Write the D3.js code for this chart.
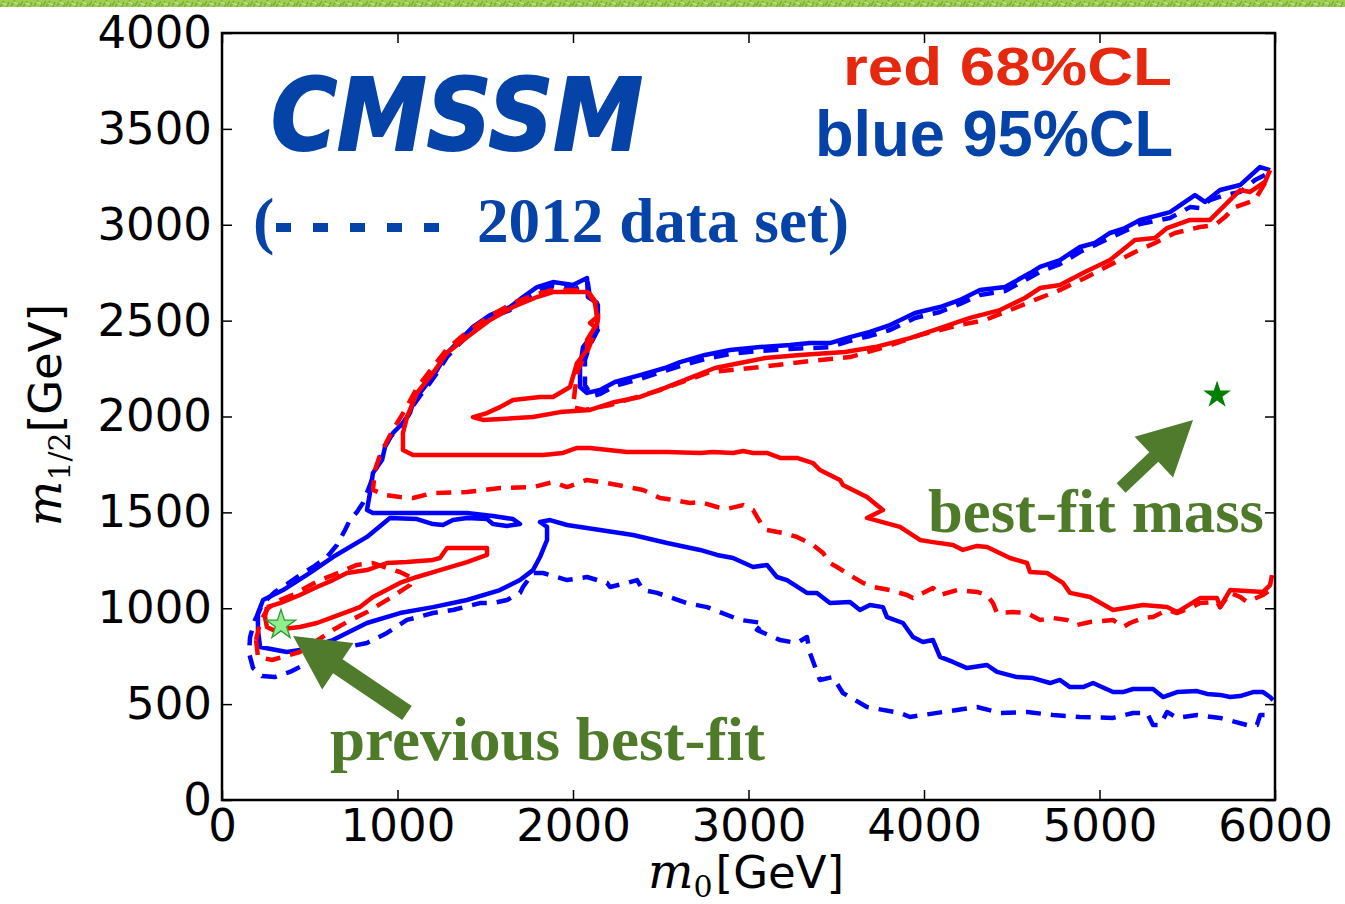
<!DOCTYPE html>
<html>
<head>
<meta charset="utf-8">
<script src="https://cdn.jsdelivr.net/npm/d3@7"></script>
<style>
  body { margin: 0; background: #fff; }
  svg { display: block; }
</style>
</head>
<body>
<svg id="chart" width="1345" height="904"></svg>
<script>
// ---- Axis ticks ----
const xTicks = [0, 1000, 2000, 3000, 4000, 5000, 6000];
const yTicks = [0, 500, 1000, 1500, 2000, 2500, 3000, 3500, 4000];

// ---- Contours, [m0, m1/2] in GeV ----
// 95% CL, current data set (solid blue)
const blue95Solid = [
  [5972,3285],[5915,3301],[5801,3207],[5687,3181],[5601,3119],[5544,3155],[5402,3066],[5231,3025],[5145,2983],[5060,2957],
  [4974,2905],[4889,2884],[4775,2816],[4661,2780],[4604,2748],[4462,2675],[4319,2660],[4205,2608],[4091,2571],[3949,2540],
  [3806,2477],[3692,2441],[3578,2414],[3464,2383],[3350,2383],[3237,2373],[3066,2362],[2895,2347],[2752,2321],[2610,2284],
  [2524,2253],[2382,2216],[2239,2180],[2154,2138],[2080,2123],[2040,2154],[2040,2258],[2057,2362],[2097,2409],[2137,2451],
  [2137,2592],[2085,2623],[2080,2722],[2057,2712],[2000,2686],[1886,2701],[1795,2675],[1715,2623],[1641,2571],[1527,2529],
  [1430,2467],[1356,2399],[1282,2331],[1225,2242],[1185,2190],[1128,2123],[1088,2070],[1071,2018],[1031,1966],[974,1914],
  [929,1841],[912,1773],[860,1705],[843,1601],[826,1512],
  [860,1497],[1014,1497],[1202,1497],[1396,1497],[1544,1481],[1658,1465],[1698,1439],[1624,1429],[1544,1439],[1510,1465],
  [1396,1471],[1316,1460],[1259,1434],[1202,1439],[1111,1465],[957,1471],
  [826,1372],[632,1267],[501,1184],[348,1095],[234,1043],[205,975],[205,887],[217,798],[370,772],[444,782],
  [632,834],[826,923],[1014,975],[1202,1006],[1396,1043],[1584,1095],[1698,1147],[1772,1199],[1812,1267],[1852,1356],
  [1852,1424],[1812,1450],[1869,1460],[1966,1434],[2154,1408],[2342,1382],[2536,1340],[2724,1304],[2821,1278],[2912,1262],
  [3026,1215],[3105,1226],[3162,1163],[3219,1147],[3333,1080],[3390,1080],[3464,1027],[3578,1033],[3635,991],[3692,1017],
  [3766,1006],[3789,954],[3880,923],[3937,850],[3994,824],[4051,834],[4091,746],[4165,720],[4245,688],[4359,704],
  [4416,668],[4530,641],[4621,636],[4718,610],[4775,626],[4832,589],[4906,589],[4963,610],[5077,563],[5134,563],
  [5191,579],[5305,579],[5362,537],[5442,563],[5556,568],[5613,553],[5687,548],[5744,537],[5801,542],[5875,563],
  [5932,563],[5972,537],[5989,521]
];

// 95% CL, 2012 data set (dashed blue)
const blue95Dashed = [
  [5943,3259],[5886,3233],[5801,3171],[5715,3155],[5630,3129],[5573,3087],[5516,3092],[5402,3035],[5231,3004],[5060,2931],
  [4889,2858],[4775,2795],[4661,2754],[4462,2654],[4319,2634],[4205,2587],[4091,2545],[3949,2514],[3806,2451],[3692,2420],
  [3578,2394],[3464,2362],[3237,2352],[3066,2342],[2895,2326],[2752,2300],[2610,2263],[2382,2196],[2239,2159],[2154,2117],
  [2108,2107],[2068,2164],[2068,2295],[2097,2373],[2142,2451],[2142,2581],[2097,2618],[2085,2696],[2011,2665],[1886,2680],
  [1795,2654],[1715,2608],[1641,2555],[1527,2514],[1430,2451],[1356,2383],[1282,2310],[1225,2227],[1185,2175],[1128,2107],
  [1088,2055],[1060,2003],[1014,1945],[957,1893],[917,1825],[889,1757],[860,1684],[832,1617],[803,1549],[769,1502],
  [729,1460],[701,1408],[655,1330],[598,1267],[519,1215],[444,1173],[370,1126],[302,1085],[234,1027],[188,939],
  [160,850],[154,767],[177,688],[228,647],[302,641],[387,668],[444,694],[632,782],[826,819],[940,871],
  [1054,939],[1202,975],[1316,991],[1470,1027],[1544,1027],[1624,1043],[1698,1080],[1715,1111],[1772,1184],[1829,1184],
  [1966,1147],[2080,1163],[2194,1132],[2211,1111],[2308,1132],[2365,1147],[2399,1095],[2479,1080],[2650,1027],[2764,1006],
  [2952,939],[3083,923],[3048,887],[3180,834],[3276,819],[3333,850],[3350,767],[3407,626],[3481,641],[3538,558],
  [3675,485],[3863,454],[3920,433],[4108,459],[4302,485],[4433,454],[4587,459],[4735,443],[4889,433],[5077,428],
  [5191,454],[5271,454],[5305,391],[5345,391],[5385,459],[5442,428],[5556,443],[5687,428],[5840,391],[5897,391],
  [5915,443],[5972,443]
];

// 68% CL, current data set (solid red): main region and the low-mass island
const red68Solid = [
  [5972,3285],[5943,3223],[5858,3171],[5801,3181],[5726,3113],[5630,3025],[5516,3025],[5385,2983],[5316,2931],[5202,2920],
  [5060,2816],[4917,2754],[4775,2686],[4661,2670],[4575,2618],[4433,2555],[4262,2514],[4091,2461],[3920,2409],[3721,2362],
  [3550,2336],[3293,2321],[3094,2305],[2952,2279],[2809,2253],[2667,2201],[2524,2149],[2382,2102],[2239,2076],[2097,2034],
  [1926,2023],[1772,1997],[1487,1982],[1430,1997],[1510,2018],[1584,2049],[1658,2086],[1812,2102],[1886,2102],[1983,2154],
  [2023,2279],[2080,2347],[2080,2399],[2125,2467],[2097,2488],[2137,2519],[2125,2592],[2080,2649],[1886,2649],[1795,2623],
  [1658,2571],[1527,2503],[1396,2414],[1282,2331],[1202,2227],[1111,2123],[1054,1997],[1031,1914],[1031,1825],[1088,1799],
  [1299,1799],[1584,1799],[1829,1799],[1943,1810],[2023,1836],[2097,1836],[2308,1815],[2536,1815],[2724,1810],[2798,1815],
  [2912,1810],[2969,1820],[3026,1810],[3105,1810],[3180,1784],[3276,1784],[3368,1757],[3407,1721],[3521,1669],[3538,1643],
  [3675,1580],[3766,1512],[3675,1471],[3863,1424],[3977,1356],[4051,1345],[4165,1330],[4222,1304],[4302,1325],[4359,1319],
  [4490,1262],[4587,1236],[4604,1189],[4701,1184],[4792,1132],[4832,1080],[4946,1059],[5077,991],[5248,1017],[5385,1006],
  [5442,980],[5573,1053],[5670,1053],[5687,1006],[5744,1095],[5932,1085],[5972,1121],[5983,1173]
];
const red68SolidIsland = [
  [256,1006],[330,1027],[444,1069],[541,1111],[632,1147],[712,1184],[826,1199],[940,1236],[1054,1241],[1202,1252],
  [1242,1262],[1282,1314],[1510,1314],[1510,1278],[1396,1241],[1242,1199],[1111,1163],[1014,1132],[860,1059],[786,1006],
  [632,954],[541,923],[444,902],[291,887],[256,902],[245,954],[256,1006]
];

// 68% CL, 2012 data set (dashed red)
const red68Dashed = [
  [5943,3218],[5886,3129],[5772,3092],[5715,3040],[5658,2999],[5573,2988],[5430,2957],[5316,2905],[5202,2858],[5060,2790],
  [4917,2722],[4775,2660],[4632,2608],[4490,2555],[4348,2503],[4205,2477],[3977,2425],[3778,2362],[3578,2310],[3350,2289],
  [3066,2258],[2781,2232],[2496,2138],[2211,2060],[2068,2034],[2000,2049],[2011,2138],[2028,2242],[2085,2347],[2108,2399],
  [2142,2503],[2142,2581],[2097,2639],[2068,2660],[1886,2660],[1795,2639],[1658,2592],[1527,2524],[1396,2441],[1282,2352],
  [1202,2258],[1111,2149],[1043,2034],[974,1930],[929,1851],[900,1799],[872,1721],[860,1617],[929,1591],[1014,1580],
  [1088,1575],[1202,1601],[1396,1606],[1584,1627],[1772,1632],[1886,1658],[1966,1632],[2080,1669],[2194,1653],[2342,1627],
  [2399,1617],[2496,1575],[2570,1565],[2667,1549],[2724,1554],[2821,1528],[2877,1518],[2969,1538],[3026,1512],[3083,1424],
  [3105,1408],[3197,1392],[3276,1372],[3368,1330],[3425,1288],[3464,1236],[3504,1215],[3578,1173],[3652,1132],[3709,1111],
  [3806,1095],[3903,1069],[3937,1053],[4051,1106],[4091,1069],[4188,1095],[4302,1085],[4359,1069],[4393,1027],[4416,975],
  [4507,980],[4587,975],[4661,939],[4735,949],[4815,939],[4872,913],[4946,928],[5077,939],[5134,902],[5174,923],
  [5248,949],[5305,954],[5385,991],[5442,975],[5516,1001],[5573,1027],[5670,1033],[5687,1006],[5744,1080],[5801,1059],
  [5840,1033],[5932,1069],[5972,1095]
];
const red68DashedIsland = [
  [194,834],[205,746],[285,730],[444,772],[632,887],[712,928],[826,980],[957,1053],[1071,1121],[1083,1158],
  [1014,1189],[940,1210],[860,1236],[769,1226],[632,1173],[558,1147],[484,1111],[416,1074],[330,1043],[262,1001],
  [217,928],[194,834]
];

// ---- Best-fit points and annotation arrows ----
const bestFit = [5670, 2112];
const previousBestFit = [336, 913];
const bestFitArrow = [[5123, 1627], [5533, 1982]];
const previousArrow = [[1054, 454], [405, 855]];

// ---- Scales ----
const plot = { left: 222, right: 1275, top: 33, bottom: 800 };
const x = d3.scaleLinear().domain([0, 6000]).range([plot.left, plot.right]);
const y = d3.scaleLinear().domain([0, 4000]).range([plot.bottom, plot.top]);

const svg = d3.select("#chart");
const RED = "#ff0000", BLUE = "#0000ff", GREEN_TXT = "#4f7a2a";
const TXT_BLUE = "#0543a8", TXT_RED = "#e6290e";

// ---- Decorative green strip along the top edge ----
const defs = svg.append("defs");
const pat = defs.append("pattern").attr("id", "grass")
  .attr("patternUnits", "userSpaceOnUse").attr("width", 23).attr("height", 8);
pat.append("rect").attr("width", 23).attr("height", 8).attr("fill", "#9fcd55");
pat.append("path").attr("d", "M0,7 L4,1 M6,8 L9,2 M11,6 L15,0 M17,8 L19,3 M20,6 L23,1")
  .attr("stroke", "#78b232").attr("stroke-width", 1.6);
pat.append("path").attr("d", "M2,3 L7,5 M13,2 L18,4")
  .attr("stroke", "#c8e597").attr("stroke-width", 1.2);
svg.append("rect").attr("x", 0).attr("y", 0).attr("width", 1345).attr("height", 7).attr("fill", "url(#grass)");

defs.append("clipPath").attr("id", "plotClip").append("rect")
  .attr("x", plot.left).attr("y", plot.top)
  .attr("width", plot.right - plot.left).attr("height", plot.bottom - plot.top);

// ---- Contours ----
const line = d3.line().x(d => x(d[0])).y(d => y(d[1]));
const gC = svg.append("g").attr("clip-path", "url(#plotClip)")
  .attr("fill", "none").attr("stroke-width", 4.5).attr("stroke-linejoin", "round");

const contours = [
  { data: blue95Solid, color: BLUE, dash: null },
  { data: blue95Dashed, color: BLUE, dash: "15,10" },
  { data: red68Dashed, color: RED, dash: "15,10" },
  { data: red68DashedIsland, color: RED, dash: "15,10" },
  { data: red68Solid, color: RED, dash: null },
  { data: red68SolidIsland, color: RED, dash: null }
];
contours.forEach(c => {
  gC.append("path").attr("d", line(c.data)).attr("stroke", c.color)
    .attr("stroke-dasharray", c.dash);
});

// ---- Axes (inward ticks on all four sides) ----
const tickFont = "DejaVu Sans, sans-serif";
const fmt = d3.format("d");
const gx = svg.append("g").attr("transform", `translate(0,${plot.bottom})`)
  .call(d3.axisBottom(x).tickValues(xTicks).tickFormat(fmt).tickSize(-10).tickSizeOuter(0).tickPadding(9));
const gy = svg.append("g").attr("transform", `translate(${plot.left},0)`)
  .call(d3.axisLeft(y).tickValues(yTicks).tickFormat(fmt).tickSize(-10).tickSizeOuter(0).tickPadding(10));
const gxt = svg.append("g").attr("transform", `translate(0,${plot.top})`)
  .call(d3.axisTop(x).tickValues(xTicks).tickSize(-10).tickSizeOuter(0).tickFormat(""));
const gyr = svg.append("g").attr("transform", `translate(${plot.right},0)`)
  .call(d3.axisRight(y).tickValues(yTicks).tickSize(-10).tickSizeOuter(0).tickFormat(""));
[gx, gy, gxt, gyr].forEach(g => {
  g.select(".domain").remove();
  g.selectAll(".tick line").attr("stroke", "#000").attr("stroke-width", 1.5);
  g.selectAll(".tick text").attr("font-family", tickFont).attr("font-size", 45).attr("fill", "#000");
});

svg.append("rect").attr("x", plot.left).attr("y", plot.top)
  .attr("width", plot.right - plot.left).attr("height", plot.bottom - plot.top)
  .attr("fill", "none").attr("stroke", "#000").attr("stroke-width", 2.5);

// ---- Axis titles ----
const xt = svg.append("text").attr("x", 648).attr("y", 888).attr("fill", "#000");
xt.append("tspan").attr("font-family", "DejaVu Serif, serif").attr("font-style", "italic").attr("font-size", 48).text("m");
xt.append("tspan").attr("font-family", "DejaVu Serif, serif").attr("font-size", 30).attr("dy", 9).text("0");
xt.append("tspan").attr("font-family", tickFont).attr("font-size", 45).attr("dy", -9).attr("dx", 3).text("[GeV]");

const yt = svg.append("text").attr("transform", "translate(61,415) rotate(-90)")
  .attr("text-anchor", "middle").attr("fill", "#000");
yt.append("tspan").attr("font-family", "DejaVu Serif, serif").attr("font-style", "italic").attr("font-size", 48).text("m");
yt.append("tspan").attr("font-family", "DejaVu Serif, serif").attr("font-size", 30).attr("dy", 9).text("1/2");
yt.append("tspan").attr("font-family", tickFont).attr("font-size", 45).attr("dy", -9).text("[GeV]");

// ---- Annotation arrows ----
function arrowPoints(p0, p1, w, hl, hw) {
  const dx = p1[0] - p0[0], dy = p1[1] - p0[1], L = Math.hypot(dx, dy);
  const u = [dx / L, dy / L], n = [-u[1], u[0]];
  const b = [p1[0] - u[0] * hl, p1[1] - u[1] * hl];
  const P = (p, s) => [p[0] + n[0] * s, p[1] + n[1] * s];
  return [P(p0, w / 2), P(b, w / 2), P(b, hw / 2), p1, P(b, -hw / 2), P(b, -w / 2), P(p0, -w / 2)];
}
const toPx = d => [x(d[0]), y(d[1])];
[[previousArrow, 17], [bestFitArrow, 13]].forEach(([a, w]) => {
  svg.append("polygon")
    .attr("points", arrowPoints(toPx(a[0]), toPx(a[1]), w, 54, 56).map(p => p.join(",")).join(" "))
    .attr("fill", "#507b2c");
});

// ---- Best-fit stars ----
svg.append("path").attr("d", d3.symbol(d3.symbolStar).size(240)())
  .attr("transform", `translate(${x(bestFit[0])},${y(bestFit[1])})`).attr("fill", "#008000");
svg.append("path").attr("d", d3.symbol(d3.symbolStar).size(270)())
  .attr("transform", `translate(${x(previousBestFit[0])},${y(previousBestFit[1])})`)
  .attr("fill", "#90ee90").attr("stroke", "#2e9a2e").attr("stroke-width", 1.3);

// ---- Text annotations ----
svg.append("text").attr("x", 271).attr("y", 150)
  .attr("font-family", "DejaVu Sans, sans-serif").attr("font-weight", "bold").attr("font-style", "italic")
  .attr("font-size", 100).attr("textLength", 372).attr("lengthAdjust", "spacingAndGlyphs")
  .attr("fill", TXT_BLUE).attr("stroke", TXT_BLUE).attr("stroke-width", 2).attr("stroke-linejoin", "round")
  .text("CMSSM");

svg.append("text").attr("x", 843).attr("y", 85)
  .attr("font-family", "Liberation Sans, Arial, sans-serif").attr("font-weight", "bold")
  .attr("font-size", 54).attr("textLength", 329).attr("lengthAdjust", "spacingAndGlyphs")
  .attr("fill", TXT_RED).text("red 68%CL");
svg.append("text").attr("x", 815).attr("y", 156)
  .attr("font-family", "Liberation Sans, Arial, sans-serif").attr("font-weight", "bold")
  .attr("font-size", 64).attr("textLength", 358).attr("lengthAdjust", "spacingAndGlyphs")
  .attr("fill", TXT_BLUE).text("blue 95%CL");

// legend line for the 2012 data set
svg.append("text").attr("x", 253).attr("y", 242)
  .attr("font-family", "Liberation Serif, serif").attr("font-weight", "bold").attr("font-size", 64)
  .attr("fill", TXT_BLUE).text("(");
svg.append("line").attr("x1", 276).attr("x2", 441).attr("y1", 227.5).attr("y2", 227.5)
  .attr("stroke", TXT_BLUE).attr("stroke-width", 9).attr("stroke-dasharray", "15,22");
svg.append("text").attr("x", 477).attr("y", 242)
  .attr("font-family", "Liberation Serif, serif").attr("font-weight", "bold").attr("font-size", 64)
  .attr("textLength", 372).attr("lengthAdjust", "spacingAndGlyphs")
  .attr("fill", TXT_BLUE).text("2012 data set)");

svg.append("text").attr("x", 928).attr("y", 532)
  .attr("font-family", "Liberation Serif, serif").attr("font-weight", "bold").attr("font-size", 62)
  .attr("textLength", 336).attr("lengthAdjust", "spacingAndGlyphs")
  .attr("fill", GREEN_TXT).text("best-fit mass");
svg.append("text").attr("x", 330).attr("y", 760)
  .attr("font-family", "Liberation Serif, serif").attr("font-weight", "bold").attr("font-size", 62)
  .attr("textLength", 435).attr("lengthAdjust", "spacingAndGlyphs")
  .attr("fill", GREEN_TXT).text("previous best-fit");
</script>
</body>
</html>
